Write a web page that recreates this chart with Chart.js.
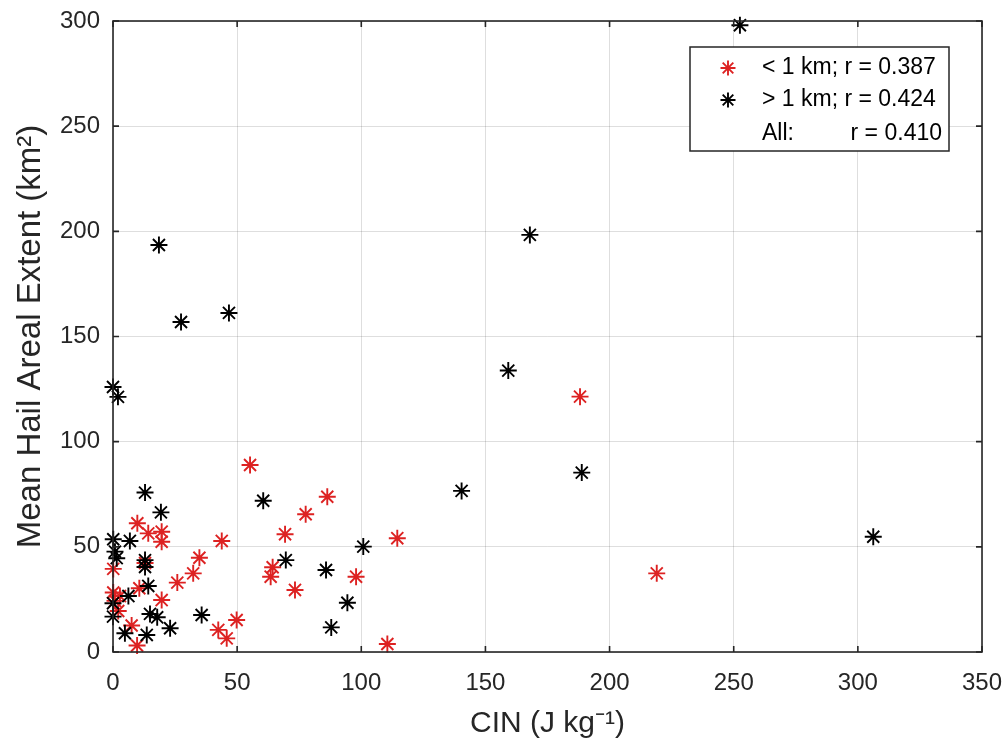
<!DOCTYPE html>
<html>
<head>
<meta charset="utf-8">
<script src="https://cdn.jsdelivr.net/npm/chart.js@4.4.0/dist/chart.umd.min.js"></script>
<style>
  html, body { margin: 0; padding: 0; background: #fff; }
  #wrap { width: 1006px; height: 744px; position: relative; }
</style>
</head>
<body>
<div id="wrap"><canvas id="chart-cin"></canvas></div>
<script>
// CIN vs. mean hail areal extent, split by height (< 1 km / > 1 km)

const xTicks = [0, 50, 100, 150, 200, 250, 300, 350];
const yTicks = [0, 50, 100, 150, 200, 250, 300];

// < 1 km (red)
const lowCIN  = [9.8, 14.2, 19.6, 19.6, 43.8, 34.8, 32.3, 25.9, 12.9, 0.1, 10.6, 0.1, 2.8, 0.8, 2.1, 19.6, 7.5,
                 9.7, 49.8, 42.4, 45.8, 55.2, 86.3, 77.6, 69.3, 114.5, 64.3, 63.5, 97.9, 73.3, 110.5, 188.1, 219.0];
const lowArea = [61.2, 56.4, 57.2, 52.4, 52.8, 44.8, 37.4, 33.0, 42.3, 39.5, 30.3, 28.3, 26.6, 24.3, 19.5, 24.7, 12.6,
                 3.1, 15.2, 10.5, 6.5, 88.9, 73.8, 65.5, 56.0, 54.1, 40.3, 35.8, 35.8, 29.5, 3.8, 121.4, 37.4];

// > 1 km (black)
const highCIN  = [12.9, 60.5, 19.3, 0.1, 6.8, 0.8, 1.5, 12.9, 12.9, 14.2, 6.2, 0.0, 0.0, 14.9, 17.8, 35.7, 23.0, 4.8,
                  13.6, 18.5, 27.4, 46.7, 0.0, 2.0, 100.8, 69.6, 85.8, 94.4, 87.9, 159.2, 188.8, 140.4, 306.2, 252.5, 167.9];
const highArea = [75.8, 71.9, 66.4, 53.6, 52.8, 47.7, 44.6, 43.7, 40.4, 31.4, 26.6, 23.2, 16.8, 18.1, 16.5, 17.6, 11.3, 8.9,
                  8.1, 193.5, 156.9, 161.2, 126.0, 121.3, 50.1, 43.7, 39.0, 23.4, 11.7, 133.8, 85.3, 76.6, 54.8, 298.0, 198.3];

const legendLines = ['< 1 km; r = 0.387', '> 1 km; r = 0.424'];
const legendAll = ['All:', 'r = 0.410'];

const RED = '#dd2222', BLACK = '#000000', INK = '#262626';
const FONT = '"Liberation Sans", Arial, Helvetica, sans-serif';

function pares(xs, ys) { return xs.map((x, i) => ({ x, y: ys[i] })); }

// caixa completa (estilo MATLAB) + ticks para dentro + legenda
const boxPlugin = {
  id: 'matlabBox',
  afterDraw(chart) {
    const { ctx, chartArea: a, scales } = chart;
    ctx.save();
    ctx.strokeStyle = INK;
    ctx.lineWidth = 1.6;
    ctx.strokeRect(a.left, a.top, a.right - a.left, a.bottom - a.top);
    const tl = 6;
    ctx.beginPath();
    xTicks.forEach(v => {
      const px = scales.x.getPixelForValue(v);
      ctx.moveTo(px, a.bottom); ctx.lineTo(px, a.bottom - tl);
      ctx.moveTo(px, a.top); ctx.lineTo(px, a.top + tl);
    });
    yTicks.forEach(v => {
      const py = scales.y.getPixelForValue(v);
      ctx.moveTo(a.left, py); ctx.lineTo(a.left + tl, py);
      ctx.moveTo(a.right, py); ctx.lineTo(a.right - tl, py);
    });
    ctx.stroke();

    // legenda
    const lx = 690, ly = 47, lw = 259, lh = 104;
    ctx.fillStyle = '#fff';
    ctx.fillRect(lx, ly, lw, lh);
    ctx.strokeStyle = INK;
    ctx.lineWidth = 1.5;
    ctx.strokeRect(lx, ly, lw, lh);
    const rows = [68, 100, 134];
    [RED, BLACK].forEach((c, i) => {
      drawStar(ctx, 728, rows[i], 7.5, c);
    });
    ctx.fillStyle = '#000';
    ctx.font = '23px ' + FONT;
    ctx.textBaseline = 'middle';
    ctx.textAlign = 'left';
    ctx.fillText(legendLines[0], 762, rows[0]);
    ctx.fillText(legendLines[1], 762, rows[1]);
    ctx.fillText(legendAll[0], 762, rows[2]);
    ctx.textAlign = 'right';
    ctx.fillText(legendAll[1], 942, rows[2]);
    ctx.restore();
  }
};

function drawStar(ctx, x, y, r, color) {
  ctx.save();
  ctx.strokeStyle = color;
  ctx.lineWidth = 1.9;
  ctx.beginPath();
  for (let k = 0; k < 4; k++) {
    const ang = k * Math.PI / 4;
    ctx.moveTo(x - r * Math.cos(ang), y - r * Math.sin(ang));
    ctx.lineTo(x + r * Math.cos(ang), y + r * Math.sin(ang));
  }
  ctx.stroke();
  ctx.restore();
}

const estrela = { pointStyle: 'star', pointRadius: 8.5, pointHoverRadius: 8.5, pointBorderWidth: 1.9, showLine: false, clip: false };

new Chart(document.getElementById('chart-cin'), {
  type: 'scatter',
  data: {
    datasets: [
      { label: '> 1 km', data: pares(highCIN, highArea), borderColor: BLACK, backgroundColor: BLACK, order: 0, ...estrela },
      { label: '< 1 km', data: pares(lowCIN, lowArea), borderColor: RED, backgroundColor: RED, order: 1, ...estrela }
    ]
  },
  options: {
    responsive: true, maintainAspectRatio: false, animation: false,
    layout: { padding: { top: 21, right: 24, left: 0, bottom: 0 } },
    plugins: { legend: { display: false }, tooltip: { enabled: false } },
    scales: {
      x: {
        type: 'linear', min: 0, max: 350,
        // área do gráfico fixa: sem a folga automática dos rótulos
        afterFit: s => { s.height = 92; s.paddingLeft = 0; s.paddingRight = 0; },
        afterBuildTicks: s => { s.ticks = xTicks.map(v => ({ value: v })); },
        grid: { color: 'rgba(0,0,0,0.13)', drawTicks: false },
        border: { display: false },
        ticks: { padding: 17, color: INK, font: { family: FONT, size: 24 }, maxRotation: 0 },
        title: { display: true, text: 'CIN (J kg\u207B\u00B9)', color: INK, font: { family: FONT, size: 30 }, padding: { top: 0, bottom: 2 } }
      },
      y: {
        type: 'linear', min: 0, max: 300,
        afterFit: s => { s.width = 113; s.paddingTop = 0; s.paddingBottom = 0; },
        afterBuildTicks: s => { s.ticks = yTicks.map(v => ({ value: v })); },
        grid: { color: 'rgba(0,0,0,0.13)', drawTicks: false },
        border: { display: false },
        ticks: { padding: 13, color: INK, font: { family: FONT, size: 24 } },
        title: { display: true, text: 'Mean Hail Areal Extent (km\u00B2)', color: INK, font: { family: FONT, size: 33 }, padding: { top: 11, bottom: 0 } }
      }
    }
  },
  plugins: [boxPlugin]
});
</script>
</body>
</html>
